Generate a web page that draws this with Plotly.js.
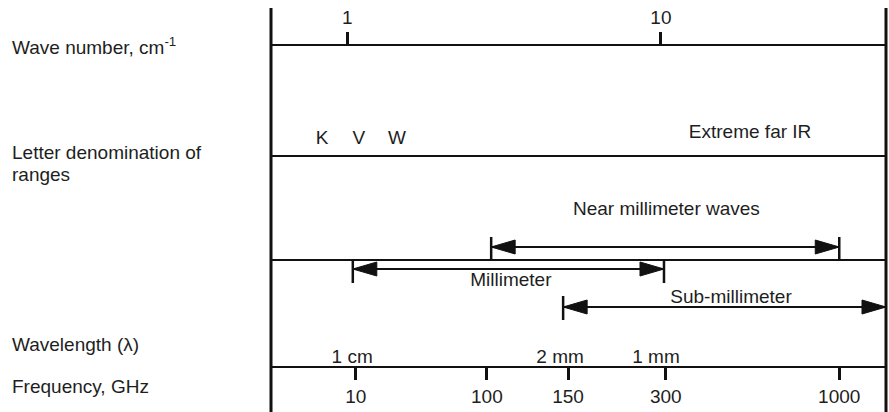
<!DOCTYPE html>
<html>
<head>
<meta charset="utf-8">
<script src="https://cdn.plot.ly/plotly-3.0.1.min.js"></script>
<style>
  html, body { margin: 0; padding: 0; background: #fff; }
  #chart { width: 889px; height: 412px; }
</style>
</head>
<body>
<div id="chart"></div>
<script>
// ---- Data (positions along the schematic scale, 0 = left border, 100 = right border) ----
const freqTicks = ['10', '100', '150', '300', '1000'];
const freqPos = [13.8, 35.1, 48.3, 64.2, 92.4];

const waveNumTicks = ['1', '10'];
const waveNumPos = [12.4, 63.4];

const wavelengthLabels = ['1 cm', '2 mm', '1 mm'];
const wavelengthPos = [13.2, 47.0, 62.6];

const bandLetters = ['K', 'V', 'W'];
const bandLetterPos = [8.3, 14.3, 20.5];
const farIRLabel = 'Extreme far IR';
const farIRPos = 77.9;

const rangeNames = ['Near millimeter waves', 'Millimeter', 'Sub-millimeter'];
const rangeStart = [35.8, 13.3, 47.5];
const rangeEnd = [92.4, 63.9, 100];
const rangeLabelPos = [64.3, 39.0, 74.8];

const rowLabels = ['Wave number, cm<sup>-1</sup>', 'Letter denomination of', 'ranges', 'Wavelength (λ)', 'Frequency, GHz'];

// ---- Styling / layout (vertical placement in pixels from top) ----
const W = 889, H = 412;
const ML = 271, MR = 3;
const FONT = 'Liberation Sans, Arial, sans-serif';
const FS = 19;
const INK = '#111111';
const TXT = '#1e1e1e';

const rowLabelY = [46, 152, 174, 344, 386.5];
const freqAxisY = 367, waveAxisY = 45;
const dividerY = [156, 260];
const arrowY = [247, 269, 307];
const rangeLabelY = [210.5, 281.5, 298];
const barSpan = [[237, 260], [260, 283], [296, 320]];
const rightBar = [true, true, false];
const headLen = 24 / ((W - ML - MR) / 100); // 24 px in axis units
const headHalf = 7;

const traces = [];
// arrows
for (let i = 0; i < rangeNames.length; i++) {
  const y = arrowY[i], s = rangeStart[i], e = rangeEnd[i];
  traces.push({ x: [s, e], y: [y, y], mode: 'lines', line: { color: INK, width: 2 }, hoverinfo: 'skip', showlegend: false });
  traces.push({ x: [s, s + headLen, s + headLen, s], y: [y, y - headHalf, y + headHalf, y], mode: 'lines', fill: 'toself', fillcolor: INK, line: { color: INK, width: 1 }, hoverinfo: 'skip', showlegend: false });
  traces.push({ x: [e, e - headLen, e - headLen, e], y: [y, y - headHalf, y + headHalf, y], mode: 'lines', fill: 'toself', fillcolor: INK, line: { color: INK, width: 1 }, hoverinfo: 'skip', showlegend: false });
  traces.push({ x: [s, s], y: barSpan[i], mode: 'lines', line: { color: INK, width: 2.5 }, hoverinfo: 'skip', showlegend: false });
  if (rightBar[i]) {
    traces.push({ x: [e, e], y: barSpan[i], mode: 'lines', line: { color: INK, width: 2.5 }, hoverinfo: 'skip', showlegend: false });
  }
}
// range labels
traces.push({ x: rangeLabelPos, y: rangeLabelY, text: rangeNames, mode: 'text', textposition: 'middle center', textfont: { family: FONT, size: FS, color: TXT }, cliponaxis: false, hoverinfo: 'skip', showlegend: false });
// band letters
traces.push({ x: bandLetterPos, y: bandLetters.map(() => 139.5), text: bandLetters, mode: 'text', textposition: 'middle center', textfont: { family: FONT, size: FS, color: TXT }, cliponaxis: false, hoverinfo: 'skip', showlegend: false });
traces.push({ x: [farIRPos], y: [133.5], text: [farIRLabel], mode: 'text', textposition: 'middle center', textfont: { family: FONT, size: FS, color: TXT }, cliponaxis: false, hoverinfo: 'skip', showlegend: false });
// empty traces to activate the extra axes
traces.push({ x: [], y: [], xaxis: 'x2', mode: 'markers', hoverinfo: 'skip', showlegend: false });
traces.push({ x: [], y: [], xaxis: 'x3', mode: 'markers', hoverinfo: 'skip', showlegend: false });

const tickFont = { family: FONT, size: FS, color: TXT };
const baseAxis = { range: [0, 100], showgrid: false, zeroline: false, fixedrange: true };

const shapes = [
  { type: 'line', xref: 'paper', yref: 'paper', x0: 0, x1: 0, y0: 0, y1: 1 - 8 / H, line: { color: INK, width: 3 } },
  { type: 'line', xref: 'paper', yref: 'paper', x0: 1, x1: 1, y0: 0, y1: 1 - 8 / H, line: { color: INK, width: 3 } }
];
dividerY.forEach(y => shapes.push({ type: 'line', xref: 'paper', yref: 'paper', x0: 0, x1: 1, y0: 1 - y / H, y1: 1 - y / H, line: { color: INK, width: 2 } }));

const annotations = rowLabels.map((t, i) => ({
  text: t, xref: 'paper', yref: 'paper', x: (10 - ML) / (W - ML - MR), y: 1 - rowLabelY[i] / H,
  xanchor: 'left', yanchor: 'middle', showarrow: false, align: 'left',
  font: { family: FONT, size: FS, color: TXT }
}));

const layout = {
  width: W, height: H,
  margin: { l: ML, r: MR, t: 0, b: 0, pad: 0 },
  paper_bgcolor: '#fff', plot_bgcolor: '#fff',
  hovermode: false,
  showlegend: false,
  xaxis: Object.assign({}, baseAxis, {
    anchor: 'free', position: 1 - freqAxisY / H, side: 'bottom',
    showline: true, linewidth: 2, linecolor: INK,
    ticks: 'outside', ticklen: 12, tickwidth: 3, tickcolor: INK,
    tickmode: 'array', tickvals: freqPos, ticktext: freqTicks, tickfont: tickFont
  }),
  xaxis2: Object.assign({}, baseAxis, {
    overlaying: 'x', anchor: 'free', position: 1 - waveAxisY / H, side: 'top',
    showline: true, linewidth: 2, linecolor: INK,
    ticks: 'outside', ticklen: 12, tickwidth: 3, tickcolor: INK,
    tickmode: 'array', tickvals: waveNumPos, ticktext: waveNumTicks, tickfont: tickFont
  }),
  xaxis3: Object.assign({}, baseAxis, {
    overlaying: 'x', anchor: 'free', position: 1 - freqAxisY / H, side: 'top',
    showline: false, ticks: '',
    tickmode: 'array', tickvals: wavelengthPos, ticktext: wavelengthLabels, tickfont: tickFont
  }),
  yaxis: { range: [H, 0], visible: false, showgrid: false, zeroline: false, fixedrange: true },
  shapes: shapes,
  annotations: annotations
};

Plotly.newPlot('chart', traces, layout, { staticPlot: true, displayModeBar: false });
</script>
</body>
</html>
